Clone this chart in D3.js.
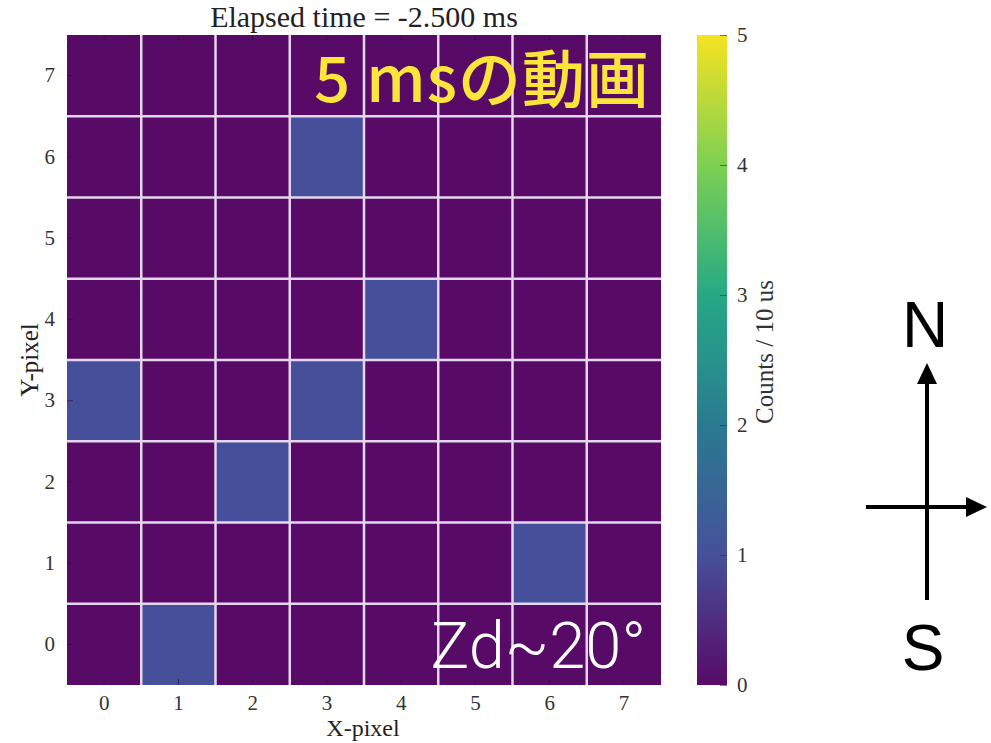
<!DOCTYPE html>
<html>
<head>
<meta charset="utf-8">
<script src="https://cdn.jsdelivr.net/npm/d3@7"></script>
<style>
  html, body { margin: 0; padding: 0; background: #fff; }
  svg { display: block; }
</style>
</head>
<body>
<svg id="chart" width="991" height="743"></svg>
<script>
// Detector pixel grid (8 x 8) and photon counts per 10 us frame
const xPixels = [0, 1, 2, 3, 4, 5, 6, 7];
const yPixels = [0, 1, 2, 3, 4, 5, 6, 7];
// Non-zero hits as [x, y, count]; every other pixel is 0
const hits = [
  [3, 6, 1],
  [4, 4, 1],
  [0, 3, 1],
  [3, 3, 1],
  [2, 2, 1],
  [6, 1, 1],
  [1, 0, 1]
];
const colorTicks = [0, 1, 2, 3, 4, 5];
const colorStops = ["#570b66", "#46509a", "#2a7a90", "#25a985", "#7dd052", "#f6e222"];
const titleText = "Elapsed time = -2.500 ms";

const svg = d3.select("#chart");
const serif = "'Liberation Serif', 'DejaVu Serif', serif";

const plot = { left: 67, right: 661, top: 35, bottom: 685 };

const x = d3.scaleBand().domain(xPixels).range([plot.left, plot.right]).padding(0);
const y = d3.scaleBand().domain(yPixels.slice().reverse()).range([plot.top, plot.bottom]).padding(0);
const color = d3.scaleLinear().domain(colorTicks).range(colorStops).clamp(true);

// build full grid
const cells = [];
xPixels.forEach(xi => yPixels.forEach(yi => {
  const h = hits.find(d => d[0] === xi && d[1] === yi);
  cells.push({ x: xi, y: yi, v: h ? h[2] : 0 });
}));

const g = svg.append("g");
g.selectAll("rect.cell").data(cells).join("rect")
  .attr("class", "cell")
  .attr("x", d => x(d.x))
  .attr("y", d => y(d.y))
  .attr("width", x.bandwidth())
  .attr("height", y.bandwidth())
  .attr("fill", d => color(d.v));

// white grid lines between pixels
const gridColor = "#e4d6ee";
g.selectAll("line.vgrid").data(xPixels.slice(1)).join("line")
  .attr("x1", d => x(d)).attr("x2", d => x(d))
  .attr("y1", plot.top).attr("y2", plot.bottom)
  .attr("stroke", gridColor).attr("stroke-width", 2.5);
g.selectAll("line.hgrid").data(yPixels.slice(0, -1)).join("line")
  .attr("y1", d => y(d)).attr("y2", d => y(d))
  .attr("x1", plot.left).attr("x2", plot.right)
  .attr("stroke", gridColor).attr("stroke-width", 2.5);

// axes with short inward ticks
const xAxis = d3.axisBottom(x).tickSize(-6).tickPadding(10);
const yAxis = d3.axisLeft(y).tickSize(-6).tickPadding(12);

const gx = svg.append("g").attr("transform", `translate(0,${plot.bottom})`).call(xAxis);
const gy = svg.append("g").attr("transform", `translate(${plot.left},0)`).call(yAxis);
[gx, gy].forEach(a => {
  a.select(".domain").remove();
  a.selectAll(".tick line").attr("stroke", "#2a0a3a").attr("stroke-opacity", 0.6);
  a.selectAll(".tick text").attr("font-family", serif).attr("font-size", 21).attr("fill", "#333");
});
// top ticks
svg.append("g").attr("transform", `translate(0,${plot.top})`)
  .call(d3.axisTop(x).tickSize(-6).tickFormat(""))
  .call(a => { a.select(".domain").remove(); a.selectAll(".tick line").attr("stroke", "#2a0a3a").attr("stroke-opacity", 0.6); });

// titles
svg.append("text").attr("x", 364).attr("y", 27)
  .attr("text-anchor", "middle").attr("font-family", serif).attr("font-size", 30)
  .attr("fill", "#222").text(titleText);
svg.append("text").attr("x", 363).attr("y", 736)
  .attr("text-anchor", "middle").attr("font-family", serif).attr("font-size", 24)
  .attr("fill", "#222").text("X-pixel");
svg.append("text").attr("transform", `translate(38,${(plot.top + plot.bottom) / 2}) rotate(-90)`)
  .attr("text-anchor", "middle").attr("font-family", serif).attr("font-size", 25)
  .attr("fill", "#222").text("Y-pixel");

// colour bar
const cb = { left: 697, width: 30, top: 35, bottom: 685 };
const defs = svg.append("defs");
const grad = defs.append("linearGradient").attr("id", "cbgrad")
  .attr("x1", 0).attr("y1", 1).attr("x2", 0).attr("y2", 0);
d3.range(0, 1.0001, 0.05).forEach(t => {
  grad.append("stop").attr("offset", t).attr("stop-color", color(t * 5));
});
svg.append("rect").attr("x", cb.left).attr("y", cb.top)
  .attr("width", cb.width).attr("height", cb.bottom - cb.top)
  .attr("fill", "url(#cbgrad)");
const cy = d3.scaleLinear().domain([0, 5]).range([cb.bottom, cb.top]);
const gc = svg.append("g").attr("transform", `translate(${cb.left + cb.width},0)`)
  .call(d3.axisRight(cy).tickValues(colorTicks).tickSize(-7).tickPadding(10).tickFormat(d3.format("d")));
gc.select(".domain").remove();
gc.selectAll(".tick line").attr("stroke", "#1a3a1a").attr("stroke-opacity", 0.6);
gc.selectAll(".tick text").attr("font-family", serif).attr("font-size", 21).attr("fill", "#333");
svg.append("text").attr("transform", `translate(773,352) rotate(-90)`)
  .attr("text-anchor", "middle").attr("font-family", serif).attr("font-size", 25)
  .attr("fill", "#333").text("Counts / 10 us");

// overlay captions
svg.append("text").attr("x", 650).attr("y", 102).attr("text-anchor", "end")
  .attr("font-family", "'Noto Sans CJK JP', 'Noto Sans', sans-serif").attr("font-weight", 500)
  .attr("font-size", 63).attr("letter-spacing", 1).attr("fill", "#fbe53b").text("5 msの動画");
svg.append("text").attr("x", 646).attr("y", 668).attr("text-anchor", "end")
  .attr("font-family", "Roboto, 'Liberation Sans', sans-serif").attr("font-weight", 300)
  .attr("font-size", 65).attr("fill", "#ffffff").text("Zd~20°");

// compass
const comp = svg.append("g");
const cx0 = 927, cyH = 507;
comp.append("line").attr("x1", cx0).attr("x2", cx0).attr("y1", 380).attr("y2", 600)
  .attr("stroke", "#000").attr("stroke-width", 4);
comp.append("path").attr("d", `M${cx0},363 L${cx0 - 10},384 L${cx0 + 10},384 Z`).attr("fill", "#000");
comp.append("line").attr("x1", 866).attr("x2", 970).attr("y1", cyH).attr("y2", cyH)
  .attr("stroke", "#000").attr("stroke-width", 4);
comp.append("path").attr("d", `M987,${cyH} L966,${cyH - 10} L966,${cyH + 10} Z`).attr("fill", "#000");
comp.append("text").attr("x", 925).attr("y", 347).attr("text-anchor", "middle")
  .attr("font-family", "'Liberation Sans', Arial, sans-serif").attr("font-size", 64)
  .attr("fill", "#000").text("N");
comp.append("text").attr("x", 923).attr("y", 670).attr("text-anchor", "middle")
  .attr("font-family", "'Liberation Sans', Arial, sans-serif").attr("font-size", 64)
  .attr("fill", "#000").text("S");
</script>
</body>
</html>
